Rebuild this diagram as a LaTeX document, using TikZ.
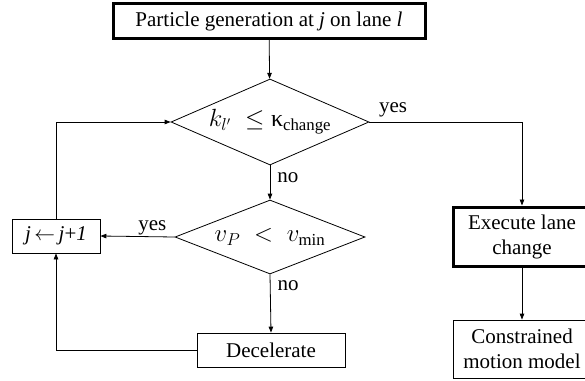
\documentclass[tikz,border=0pt]{standalone}
\usepackage{amsmath}
\usepackage{fontspec}
\setmainfont{Liberation Serif}
\usetikzlibrary{shapes.geometric, arrows.meta, positioning}

\begin{document}
\begin{tikzpicture}[
  x=1pt, y=-1pt,
  every node/.style={font=\fontsize{21}{25}\selectfont},
  stepbox/.style={rectangle, draw=black, line width=0.8pt, fill=white,
    minimum width=#1, minimum height=34pt, inner sep=2pt, align=center},
  mainbox/.style={rectangle, draw=black, line width=3pt, fill=white,
    minimum width=#1, inner sep=2pt, align=center},
  testbox/.style={diamond, draw=black, line width=0.8pt, fill=white,
    inner sep=0pt, aspect=2.4, font=\fontsize{24}{28}\selectfont},
  arr/.style={-{Triangle[length=6pt, width=4.5pt]}, line width=0.8pt},
  lbl/.style={inner sep=1pt}
]
\useasboundingbox (0,0) rectangle (585,380);

% ===== MAIN COLUMN =====
\node[mainbox=312pt, minimum height=35pt] (gen) at (269,21) {Particle generation at \textit{j} on lane \textit{l}};
\node[testbox, minimum width=198pt, minimum height=86pt] (chk) at (270,122)
  {$k_{l'}\;\leq$\;κ$_{\text{change}}$};
\node[testbox, minimum width=190pt, minimum height=74pt] (spd) at (270,237)
  {$v_P\;<\;v_{\min}$};
\node[stepbox=148pt] (dec) at (271,350) {Decelerate};

% ===== LOOP BACK =====
\node[stepbox=88pt] (inc) at (56,236) {\textit{j}\,$\leftarrow$\,\textit{j}+\textit{1}};

% ===== LANE CHANGE BRANCH =====
\node[mainbox=138pt, minimum height=59pt] (exe) at (522,236.5) {Execute lane\\change};
\node[stepbox=138pt, minimum height=58pt] (con) at (522,349) {Constrained\\motion model};

% ===== CONNECTORS =====
\draw[arr] (gen) -- (chk);
\draw[arr] (chk.east) -| (exe.north);
\node[lbl] (yes1) at (393,110) {yes};
\draw[arr] (chk.south) -- (spd.north) node[lbl, pos=0.35, right=6pt] (no1) {no};
\draw[arr] (spd.west) -- (inc.east) node[lbl, pos=0.3, above] (yes2) {yes};
\draw[arr] (spd.south) -- (dec.north) node[lbl, pos=0.2, right=6pt] (no2) {no};
\draw[arr] (dec.west) -| (inc.south);
\draw[arr] (inc.north) |- (chk.west);
\draw[arr] (exe) -- (con);
\end{tikzpicture}
\end{document}
